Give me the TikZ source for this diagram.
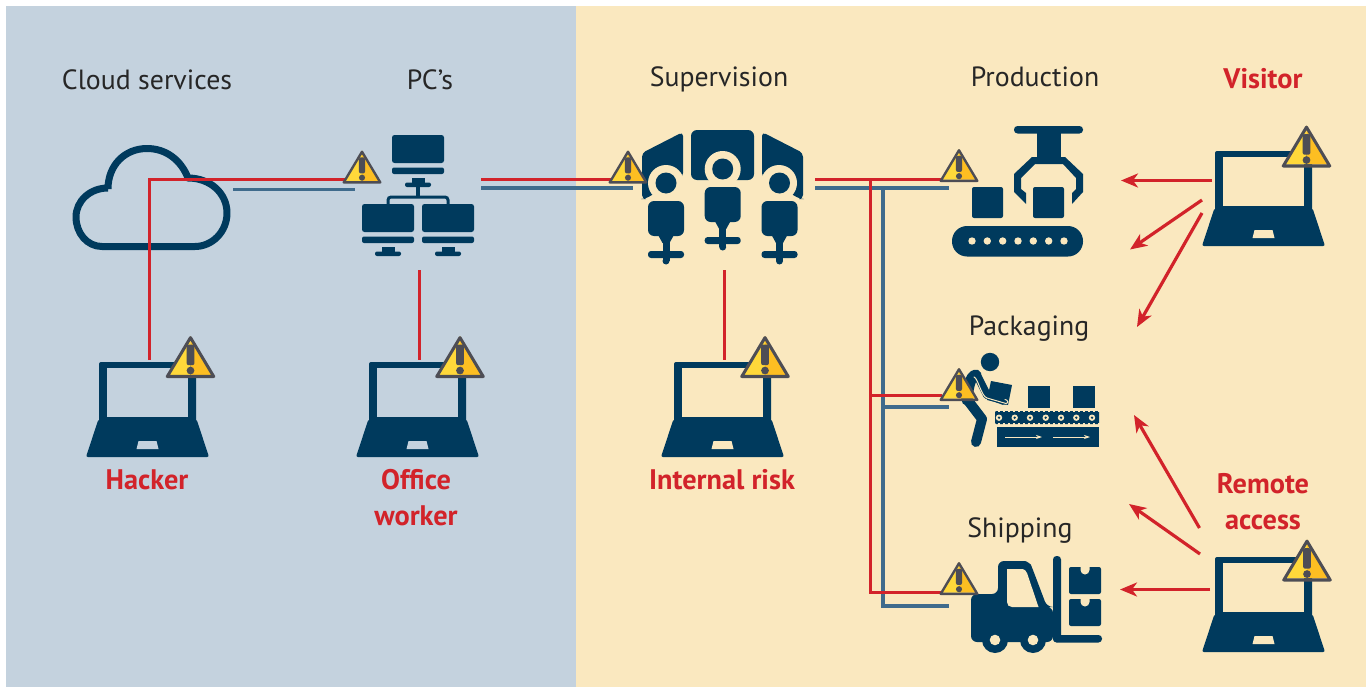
\documentclass[tikz,border=0pt]{standalone}
\usepackage{fontspec}
\setmainfont{PT Sans}
\usetikzlibrary{arrows.meta}
\definecolor{navy}{HTML}{003A5D}
\definecolor{redl}{HTML}{D2232A}
\definecolor{steel}{HTML}{3F6B8C}
\definecolor{bgblue}{HTML}{C4D2DE}
\definecolor{bgyel}{HTML}{FAE8BF}
\definecolor{wgrey}{HTML}{4D4D55}
\definecolor{wyel}{HTML}{FFD83A}
\definecolor{wyel2}{HTML}{FDBE22}
\tikzset{
  x=1pt,y=-1pt,
  redline/.style={draw=redl,line width=3pt},
  steelline/.style={draw=steel,line width=3.2pt},
  redarrow/.style={draw=redl,line width=3.2pt,-{Stealth[length=17pt,width=14pt,inset=5pt]}},
  plain/.style={font=\fontsize{27.8}{34}\selectfont,text=black!85,inner sep=0pt},
  risk/.style={font=\fontsize{28.3}{36}\selectfont\bfseries,text=redl,inner sep=0pt,align=center},
  pics/laptop/.style={code={
    \fill[navy,rounded corners=2pt] (-48.5,0) -- (48.5,0) -- (48.5,62) -- (-48.5,62) -- cycle;
    \fill[navy,rounded corners=2pt] (-49,57) -- (49,57) -- (61.5,95) -- (-61.5,95) -- cycle;
    \fill[bgyelcur] (-40.5,6) rectangle (40.5,55);
    \fill[bgyelcur] (-9,79) -- (9,79) -- (11,87) -- (-11,87) -- cycle;
  }},
  pics/warn/.style={code={
    \begin{scope}[scale=#1]
    \fill[wyel] (0,0) -- (-21,36) -- (0,36) -- cycle;
    \fill[wyel2] (0,0) -- (21,36) -- (0,36) -- cycle;
    \draw[wgrey,line width=#1*2.8pt,line join=round] (0,1.5) -- (-21.5,37.5) -- (21.5,37.5) -- cycle;
    \fill[wgrey,rounded corners=2pt] (-3.6,8) rectangle (3.6,27);
    \fill[wgrey] (0,32) circle (3.6);
    \end{scope}
  }},
  pics/pcmon/.style={code={
    \fill[navy,rounded corners=2.5pt] (0,0) -- (52,0) -- (52,28) -- (0,28) -- cycle;
    \fill[navy,rounded corners=2pt] (0,32.5) -- (52,32.5) -- (52,39) -- (0,39) -- cycle;
    \fill[navy] (19.5,43) rectangle (32.5,48);
    \fill[navy,rounded corners=2pt] (13,47.5) rectangle (39,52);
  }},
  pics/operator/.style={code={
    \fill[navy] (0,0) circle (10.5);
    \fill[navy,rounded corners=6pt] (-18,18) rectangle (18,53);
    \fill[navy] (-9,50) -- (9,50) -- (3.5,60) -- (-3.5,60) -- cycle;
    \fill[navy] (-3.5,58) rectangle (3.5,78);
    \fill[navy] (0,78) circle (3.5);
    \fill[navy,rounded corners=3pt] (-18,68) rectangle (18,75);
  }},
}
\colorlet{bgyelcur}{bgyel}
\begin{document}
\begin{tikzpicture}
\useasboundingbox (0,0) rectangle (1369,688);
\fill[white] (0,0) rectangle (1369,688);
\fill[bgblue] (6,6) rectangle (576,687);
\fill[bgyel] (576,6) rectangle (1366,687);

% --- anchor coordinates
\coordinate (hackerpc) at (147.5,362);
\coordinate (officepc) at (417.5,362);
\coordinate (internalpc) at (722.5,362);
\coordinate (visitorpc) at (1263.5,151);
\coordinate (remotepc) at (1263.5,557);

% --- cloud
\draw[navy,line width=7pt,line join=round]
  (108,189) .. controls (108,165) and (125,148.5) .. (147,148.5)
  .. controls (166,148.5) and (181,160) .. (188,178)
  .. controls (210,178) and (227,193) .. (227,213)
  .. controls (227,232) and (212,246.5) .. (195,246.5)
  -- (102,246.5)
  .. controls (87,246.5) and (76,233) .. (76,217)
  .. controls (76,201) and (90,188) .. (108,188);

% --- connectors
\coordinate (h1) at (149,360);
\coordinate (h2) at (149,179);
\coordinate (w1) at (346,179);
\coordinate (c1) at (233,189.5);
\coordinate (c2) at (355,189.5);
\draw[redline] (h1) -- (h2) -- (w1);
\draw[steelline] (c1) -- (c2);
\coordinate (p1) at (481,179);
\coordinate (p2) at (612,179);
\coordinate (p3) at (481,188);
\coordinate (p4) at (633,188);
\draw[redline] (p1) -- (p2);
\draw[steelline] (p3) -- (p4);
\coordinate (o1) at (419,270);
\coordinate (o2) at (419,360);
\draw[redline] (o1) -- (o2);
\coordinate (i1) at (724,270);
\coordinate (i2) at (724,360);
\draw[redline] (i1) -- (i2);
\coordinate (s1) at (815,179);
\coordinate (s2) at (942,179);
\coordinate (s3) at (815,188);
\coordinate (s4) at (949,188);
\coordinate (rv) at (870,179);
\coordinate (rb) at (870,592);
\coordinate (rs) at (942,592);
\coordinate (rp1) at (870,395);
\coordinate (rp2) at (942,395);
\coordinate (bv) at (883,188);
\coordinate (bb) at (883,606);
\coordinate (bs) at (949,606);
\coordinate (bp1) at (883,407);
\coordinate (bp2) at (949,407);
\draw[steelline] (s3) -- (s4);
\draw[steelline] (bv) -- (bb) -- (bs);
\draw[steelline] (bp1) -- (bp2);
\draw[redline] (s1) -- (s2);
\draw[redline] (rv) -- (rb) -- (rs);
\draw[redline] (rp1) -- (rp2);
% arrows
\coordinate (v0) at (1212,180.5); \coordinate (v0e) at (1121,180.5);
\coordinate (v1) at (1202,200); \coordinate (v1e) at (1130,249.5);
\coordinate (v2) at (1202,213); \coordinate (v2e) at (1137,327);
\coordinate (r0) at (1199.5,528); \coordinate (r0e) at (1134,415);
\coordinate (r1) at (1200,554); \coordinate (r1e) at (1129,504);
\coordinate (r2) at (1210,589.5); \coordinate (r2e) at (1120,589.5);
\foreach \a/\b in {v0/v0e,v1/v1e,v2/v2e,r0/r0e,r1/r1e,r2/r2e}
  \draw[redarrow] (\a) -- (\b);

% --- PC network
\coordinate (pctop) at (392,135);
\pic at (pctop) {pcmon};
\pic at (362,204) {pcmon};
\pic at (422,204) {pcmon};
\draw[navy,line width=3pt,rounded corners=3pt] (388,206) -- (388,197) -- (448,197) -- (448,206);
\draw[navy,line width=3.5pt] (418,186) -- (418,197);

% --- Supervision
\fill[navy,rounded corners=6pt] (691,130) rectangle (754,180);
\fill[navy,rounded corners=4pt] (683,132) -- (683,177) -- (645,199) -- (642,199) -- (642,153) -- cycle;
\fill[navy,rounded corners=4pt] (762,132) -- (762,177) -- (800,199) -- (803,199) -- (803,153) -- cycle;
\fill[bgyel] (722.7,169) circle (18);
\fill[bgyel] (666,183) circle (18);
\fill[bgyel] (779,183) circle (18);
\pic at (722.7,169) {operator};
\pic at (666,183) {operator};
\pic at (779.5,183) {operator};

% --- Production
\fill[navy,rounded corners=3.5pt] (1014,126) rectangle (1083,133.5);
\fill[navy] (1037,133) rectangle (1061,158);
\fill[navy] (1032,157) -- (1014,174) -- (1014,192) -- (1026,204) -- (1026,193) -- (1021,189) -- (1021,178) -- (1035,164) -- (1063,164) -- (1076,178) -- (1076,189) -- (1072,193) -- (1072,204) -- (1083,192) -- (1083,174) -- (1065,157) -- cycle;
\fill[navy,rounded corners=2pt] (972,218) -- (972,187) -- (1003,187) -- (1003,218) -- cycle;
\fill[navy,rounded corners=2pt] (1033,218) -- (1033,187) -- (1064,187) -- (1064,218) -- cycle;
\fill[navy,rounded corners=15pt] (952,226) rectangle (1083,256.5);
\foreach \x in {972,987.3,1002.7,1018,1033.3,1048.7,1064}
  \fill[bgyel] (\x,241) circle (3.7);

% --- Packaging
\fill[navy] (990,362) circle (9.2);
\draw[navy,line width=10pt,line cap=round,line join=round] (966,398) -- (982,419) -- (976,442);
\draw[navy,line width=11pt,line cap=round] (967,400) .. controls (968,388) and (970,376) .. (976,375);
\fill[navy] (991,381) -- (1012,385) -- (1008,405) -- (987,400) -- cycle;
\draw[navy,line width=8pt,line cap=round,line join=round] (977,375) -- (987,395) -- (1004,401);
\draw[bgyel,line width=1pt,line cap=round] (974,377) .. controls (978,378) and (981,396) .. (987,398) -- (1006,403.5) .. controls (1009,403) and (1008,400) .. (1005,399.5);
\fill[navy] (1028,386) rectangle (1050,408);
\fill[navy] (1073,386) rectangle (1095,408);
\fill[navy,rounded corners=1pt] (995,411) rectangle (1099,424);
\foreach \x in {999,1004,...,1099} {
  \fill[bgyel] (\x-1,410.5) rectangle (\x+1,411.6);
  \fill[bgyel] (\x-1,423.4) rectangle (\x+1,424.5);
}
\foreach \x in {999,1014.7,1030,1045.7,1061,1076.3,1092} {
  \fill[bgyel] (\x,417.7) circle (3.2);
  \fill[navy] (\x,417.7) circle (1.3);
}
\fill[navy] (997,427) rectangle (1099,447);
\draw[bgyel,line width=.8pt,-{Stealth[length=6pt,width=4pt]}] (1005,437) -- (1042,437);
\draw[bgyel,line width=.8pt,-{Stealth[length=6pt,width=4pt]}] (1053,437) -- (1090,437);

% --- Shipping
\fill[navy,rounded corners=6pt] (971,642) -- (971,594) -- (998,594) -- (998,561) -- (1019,561) .. controls (1027,561) and (1031,565) .. (1033,570) -- (1047,607) -- (1053,607) -- (1053,642) -- cycle;
\fill[bgyel] (1007,569) -- (1021,569) .. controls (1025,569) and (1026,571) .. (1027,573) -- (1038.5,607) -- (1012,607) .. controls (1009,607) and (1007,605) .. (1007,602) -- cycle;
\fill[navy,rounded corners=3.5pt] (1053,556) rectangle (1061,642);
\fill[navy,rounded corners=3.5pt] (1053,635) rectangle (1102,642.5);
\foreach \x in {995,1033} {
  \fill[navy] (\x,640) circle (13);
  \fill[bgyel] (\x,640) circle (5.3);
}
\fill[navy,rounded corners=2pt] (1069,567) rectangle (1101,594);
\fill[navy,rounded corners=2pt] (1069,599) rectangle (1101,626);
\fill[bgyel] (1080.5,566) -- (1089.5,566) -- (1089.5,570) arc (0:-180:4.5 and -4.5) -- cycle;
\fill[bgyel] (1080.5,598) -- (1089.5,598) -- (1089.5,602) arc (0:-180:4.5 and -4.5) -- cycle;

% --- laptops
\colorlet{bgyelcur}{bgyel}
\pic at (internalpc) {laptop};
\pic at (visitorpc) {laptop};
\pic at (remotepc) {laptop};
\colorlet{bgyelcur}{bgblue}
\pic at (hackerpc) {laptop};
\pic at (officepc) {laptop};

% --- warnings
\pic at (190.5,336) {warn=1.08};
\pic at (460,336) {warn=1.08};
\pic at (765,336) {warn=1.08};
\pic at (1306.5,125.5) {warn=1.08};
\pic at (1307,539.5) {warn=1.08};
\pic at (362,150.5) {warn=.85};
\pic at (628,150.5) {warn=.85};
\pic at (959,149) {warn=.85};
\pic at (959,368) {warn=.85};
\pic at (959,562) {warn=.85};

% --- labels
\node[plain] (lcloud) at (147,80) {Cloud services};
\node[plain] (lpc) at (430,80) {PC’s};
\node[plain] (lsup) at (719,79) {Supervision};
\node[plain] (lprod) at (1035,76.5) {Production};
\node[plain] (lpack) at (1029,329) {Packaging};
\node[plain] (lship) at (1020,531) {Shipping};
\node[risk] (lvis) at (1263,79) {Visitor};
\node[risk] (lhack) at (147,480) {Hacker};
\node[risk] (loff) at (416,498) {Office\\worker};
\node[risk] (lint) at (722,480) {Internal risk};
\node[risk] (lrem) at (1263,502) {Remote\\access};
\end{tikzpicture}
\end{document}
